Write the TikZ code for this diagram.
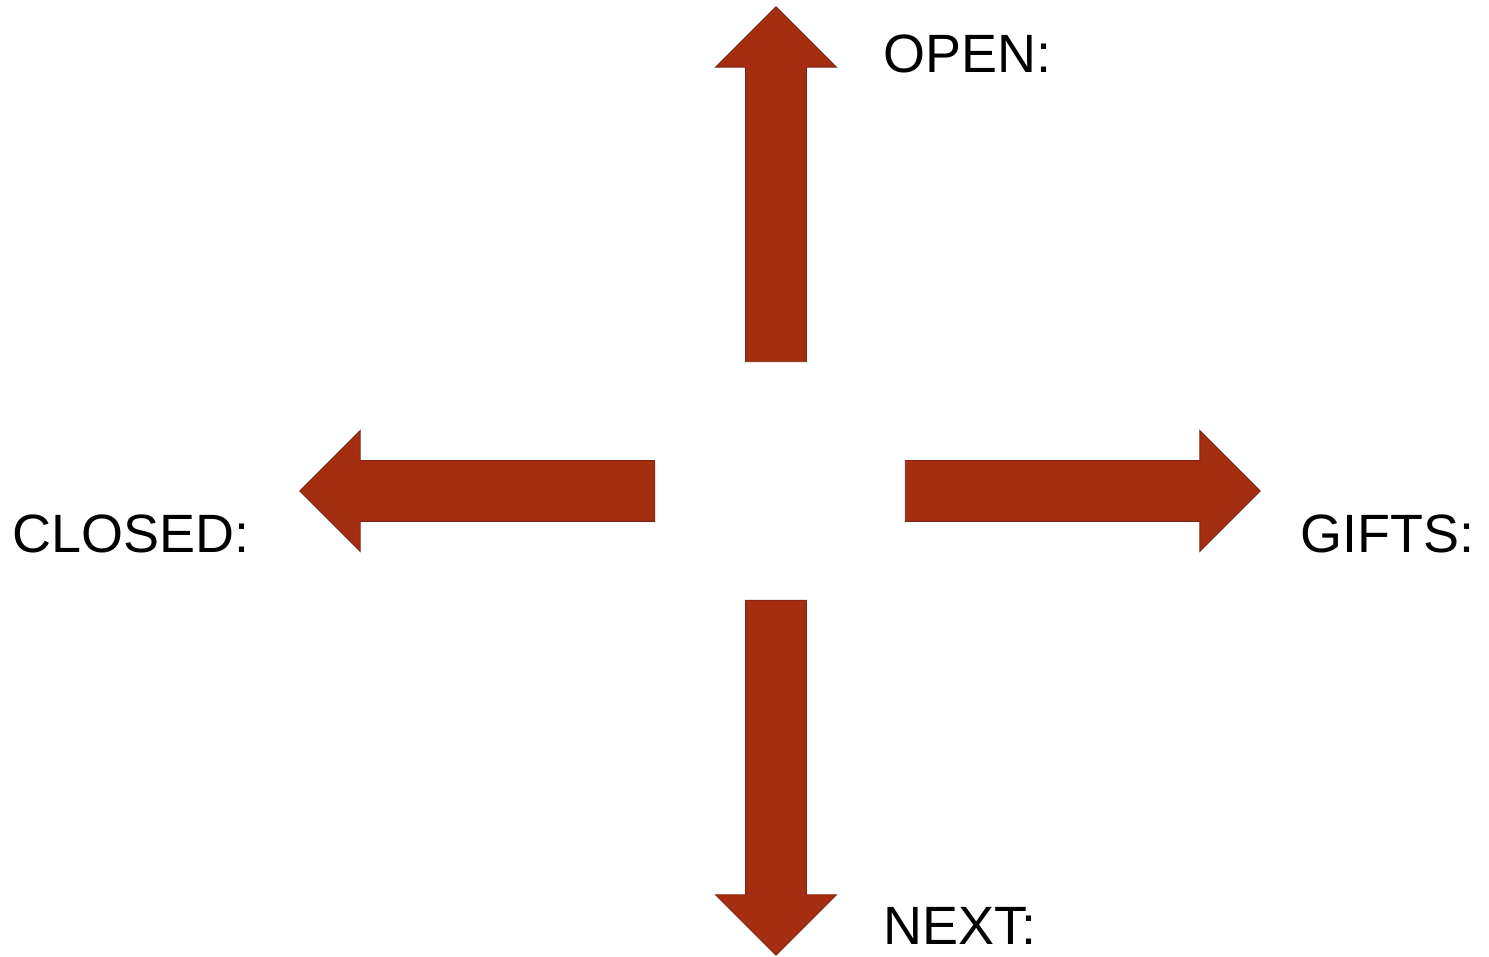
\documentclass[tikz,border=0pt]{standalone}
\usepackage{fontspec}
\setmainfont{Liberation Sans}
\usetikzlibrary{shapes.arrows}
\definecolor{setavermelha}{HTML}{A52E11}
\definecolor{setaborda}{HTML}{7B2413}
\tikzset{
  seta/.style={single arrow, draw=setaborda, fill=setavermelha, line width=0.55pt,
               inner sep=0.6cm, single arrow head extend=0.6cm,
               single arrow tip angle=90, minimum height=7.1cm},
  rotulo/.style={font=\fontsize{30.7}{36}\selectfont, anchor=base west, inner sep=0pt},
}
\begin{document}
\begin{tikzpicture}
  \useasboundingbox (0,0) rectangle (29.78,19.14);
  % setas
  \node[seta, shape border rotate=90]  (cima)     at (15.52,15.15) {};
  \node[seta, shape border rotate=180] (esquerda) at (9.85,9.32) {};
  \node[seta, shape border rotate=0]   (direita)  at (21.35,9.32) {};
  \node[seta, shape border rotate=270] (baixo)    at (15.52,3.89) {};
  % rotulos
  \node[rotulo] (open)   at (17.66,17.68) {OPEN:};
  \node[rotulo] (closed) at (0.24,8.08) {CLOSED:};
  \node[rotulo] (gifts)  at (26.0,8.08) {GIFTS:};
  \node[rotulo] (next)   at (17.66,0.24) {NEXT:};
\end{tikzpicture}
\end{document}
